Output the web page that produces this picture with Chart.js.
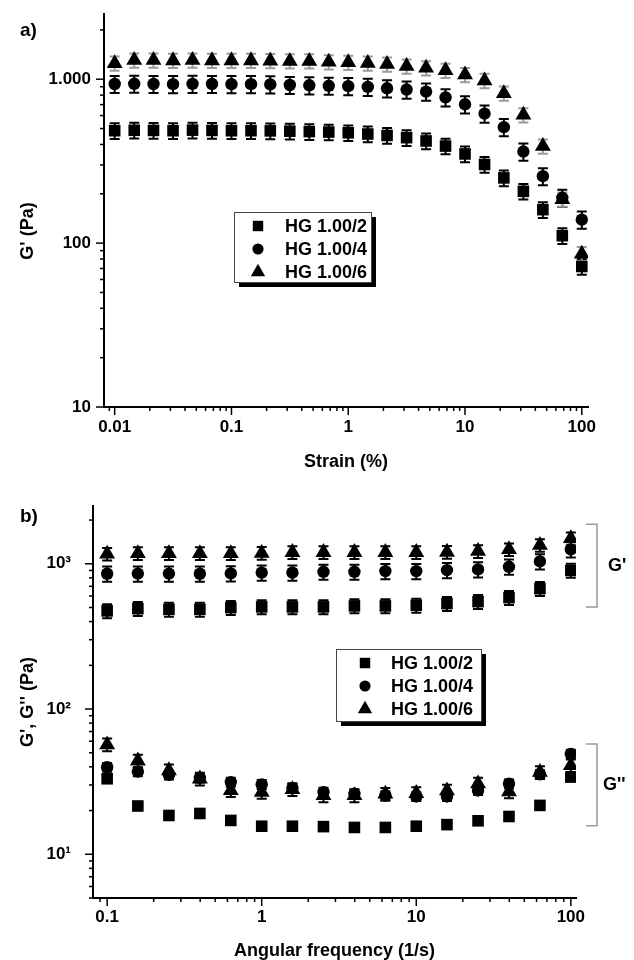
<!DOCTYPE html>
<html>
<head>
<meta charset="utf-8">
<script src="https://cdn.jsdelivr.net/npm/chart.js@4.4.1/dist/chart.umd.min.js"></script>
<style>
  html, body { margin: 0; padding: 0; background: #fff; }
  #wrap { position: relative; width: 634px; height: 960px; }
  canvas { position: absolute; left: 0; }
  #chartA { top: 0; }
  #chartB { top: 480px; }
</style>
</head>
<body>
<div id="wrap">
  <canvas id="chartA" width="634" height="480"></canvas>
  <canvas id="chartB" width="634" height="480"></canvas>
</div>
<script>
// ---- data ----
const seriesNames = ['HG 1.00/2', 'HG 1.00/4', 'HG 1.00/6'];

// a) strain sweep, G' (Pa)
const strain = [0.01, 0.0147, 0.0215, 0.0316, 0.0464, 0.0681, 0.1, 0.147, 0.215, 0.316, 0.464, 0.681,
                1, 1.47, 2.15, 3.16, 4.64, 6.81, 10, 14.7, 21.5, 31.6, 46.4, 68.1, 100];
const strainG2 = [485, 488, 487, 485, 489, 487, 485, 485, 484, 482, 479, 476, 471, 463, 454, 440, 420, 391, 350, 302, 250, 207, 160, 111, 72];
const strainG4 = [935, 938, 935, 933, 937, 935, 933, 933, 930, 922, 918, 912, 907, 898, 880, 865, 840, 775, 703, 617, 510, 362, 256, 189, 139];
const strainG6 = [1250, 1305, 1305, 1300, 1305, 1300, 1300, 1300, 1295, 1290, 1290, 1275, 1265, 1253, 1235, 1200, 1172, 1130, 1065, 980, 820, 605, 390, 185, 86];
const strainErr = [0.11, 0.12, 0.10];   // relative error bar size per series

// b) frequency sweep, G' and G'' (Pa)
const freq = [0.1, 0.158, 0.251, 0.398, 0.631, 1, 1.58, 2.51, 3.98, 6.31, 10, 15.8, 25.1, 39.8, 63.1, 100];
const gp2 = [474, 491, 486, 486, 499, 505, 505, 505, 513, 513, 518, 532, 549, 585, 674, 900];
const gp4 = [854, 856, 856, 854, 858, 870, 868, 881, 881, 891, 891, 905, 915, 954, 1038, 1255];
const gp6 = [1170, 1180, 1180, 1180, 1180, 1185, 1200, 1200, 1200, 1200, 1200, 1205, 1220, 1255, 1344, 1493];
const gpp2 = [33.1, 21.5, 18.5, 19.1, 17.1, 15.6, 15.6, 15.5, 15.3, 15.3, 15.6, 16.0, 17.0, 18.2, 21.7, 34.0];
const gpp4 = [39.8, 37.1, 35.2, 33.6, 31.4, 30.3, 28.5, 26.8, 26.1, 25.4, 25.0, 25.0, 27.5, 30.6, 35.5, 49.1];
const gpp6 = [56.9, 44.0, 37.7, 33.1, 27.5, 26.8, 28.0, 25.4, 25.4, 26.0, 26.3, 27.4, 30.6, 27.0, 36.7, 40.9];
const gpErr = [0.11, 0.12, 0.10];
const gppErr = [0.06, 0.07, 0.10];

// tick values and labels
const strainTicks = [0.01, 0.1, 1, 10, 100];
const strainTickLabels = ['0.01', '0.1', '1', '10', '100'];
const gaTicks = [10, 100, 1000];
const gaTickLabels = ['10', '100', '1.000'];
const freqTicks = [0.1, 1, 10, 100];
const freqTickLabels = ['0.1', '1', '10', '100'];
const gbTicks = [10, 100, 1000];
const gbTickLabels = ['10\u00B9', '10\u00B2', '10\u00B3'];

// ---- chart setup ----
const FAMILY = '"Liberation Sans", Arial, sans-serif';
Chart.defaults.font.family = FAMILY;
Chart.defaults.color = '#000';

const styles = ['rect', 'circle', 'triangle'];
const radii = [8.2, 6.2, 9.2];

function makeDataset(idx, xs, ys, err, errColor, inLegend) {
    return {
        label: seriesNames[idx],
        data: xs.map((x, i) => ({ x: x, y: ys[i] })),
        pointStyle: styles[idx],
        pointRadius: radii[idx],
        pointHoverRadius: radii[idx],
        backgroundColor: '#000',
        borderColor: '#000',
        pointBorderWidth: 0,
        showLine: false,
        errRel: err,
        errColor: errColor,
        inLegend: inLegend
    };
}

function logAxis(o) {
    return {
        type: 'logarithmic',
        position: o.pos,
        min: o.min,
        max: o.max,
        grid: { display: false, drawTicks: false },
        border: { display: true, color: '#000', width: 2 },
        afterBuildTicks: s => { s.ticks = o.ticks.map(v => ({ value: v })); },
        afterFit: s => {
            if (o.pos === 'left') s.width = o.size; else s.height = o.size;
            // keep the plot area where the layout padding puts it
            s.paddingTop = 0; s.paddingBottom = 0; s.paddingLeft = 0; s.paddingRight = 0;
        },
        ticks: {
            callback: (v, i) => o.labels[i],
            padding: o.pad,
            autoSkip: false,
            maxRotation: 0,
            color: '#000',
            font: { size: 17, weight: 'bold' }
        },
        title: {
            display: !!o.title,
            text: o.title || '',
            color: '#000',
            font: { size: 18, weight: 'bold', lineHeight: o.titleLH || 1.2 },
            padding: o.titlePad || 0
        }
    };
}

// error bars drawn under the markers
const errorBars = {
    id: 'errorBars',
    beforeDatasetsDraw(chart) {
        const ctx = chart.ctx;
        const yScale = chart.scales.y;
        chart.data.datasets.forEach((ds, i) => {
            const meta = chart.getDatasetMeta(i);
            ctx.save();
            ctx.strokeStyle = ds.errColor;
            ctx.lineWidth = 2;
            meta.data.forEach((pt, j) => {
                const v = ds.data[j].y;
                const top = yScale.getPixelForValue(v * (1 + ds.errRel));
                const bot = yScale.getPixelForValue(v * (1 - ds.errRel));
                ctx.beginPath();
                ctx.moveTo(pt.x, top); ctx.lineTo(pt.x, bot);
                ctx.moveTo(pt.x - 5, top); ctx.lineTo(pt.x + 5, top);
                ctx.moveTo(pt.x - 5, bot); ctx.lineTo(pt.x + 5, bot);
                ctx.stroke();
            });
            ctx.restore();
        });
    }
};

// major and minor log ticks, pointing outwards
const logTicks = {
    id: 'logTicks',
    afterDraw(chart) {
        const ctx = chart.ctx;
        const xs = chart.scales.x, ys = chart.scales.y;
        ctx.save();
        ctx.strokeStyle = '#000';
        ctx.lineWidth = 1.5;
        [xs, ys].forEach(s => {
            const d0 = Math.floor(Math.log10(s.min)), d1 = Math.ceil(Math.log10(s.max));
            for (let d = d0; d <= d1; d++) {
                for (let m = 1; m < 10; m++) {
                    const v = m * Math.pow(10, d);
                    if (v < s.min * 0.9999 || v > s.max * 1.0001) continue;
                    const p = s.getPixelForValue(v);
                    const len = m === 1 ? 8 : 4;
                    ctx.beginPath();
                    if (s === xs) { ctx.moveTo(p, xs.top); ctx.lineTo(p, xs.top + len); }
                    else { ctx.moveTo(ys.right, p); ctx.lineTo(ys.right - len, p); }
                    ctx.stroke();
                }
            }
        });
        ctx.restore();
    }
};

// y title, boxed legend with drop shadow, panel letter and G'/G'' brackets
const extras = {
    id: 'extras',
    afterDraw(chart) {
        const ctx = chart.ctx;
        const o = chart.options.plugins.extras;
        const lg = o.legend;
        ctx.save();
        // y axis title
        ctx.save();
        ctx.translate(o.yTitle.x, o.yTitle.y);
        ctx.rotate(-Math.PI / 2);
        ctx.font = 'bold 18px ' + FAMILY;
        ctx.fillStyle = '#000';
        ctx.textAlign = 'center';
        ctx.textBaseline = 'middle';
        ctx.fillText(o.yTitle.text, 0, 0);
        ctx.restore();
        // legend box
        ctx.fillStyle = '#000';
        ctx.fillRect(lg.x + 5, lg.y + 5, lg.w, lg.h);
        ctx.fillStyle = '#fff';
        ctx.fillRect(lg.x, lg.y, lg.w, lg.h);
        ctx.strokeStyle = '#444';
        ctx.lineWidth = 1;
        ctx.strokeRect(lg.x + 0.5, lg.y + 0.5, lg.w, lg.h);
        ctx.font = 'bold 18px ' + FAMILY;
        ctx.textBaseline = 'middle';
        ctx.textAlign = 'left';
        let row = 0;
        chart.data.datasets.forEach(ds => {
            if (!ds.inLegend) return;
            const y = lg.y + lg.top + row * lg.rowH;
            ctx.fillStyle = '#000';
            Chart.helpers.drawPoint(ctx, { pointStyle: ds.pointStyle, radius: ds.pointRadius * 0.9, rotation: 0, borderWidth: 0 }, lg.x + lg.markerX, y);
            ctx.fillStyle = '#000';
            ctx.fillText(ds.label, lg.x + lg.textX, y + 1);
            row++;
        });
        // panel letter
        ctx.font = 'bold 19px ' + FAMILY;
        ctx.fillStyle = '#000';
        ctx.fillText(o.letter.text, o.letter.x, o.letter.y);
        // brackets
        const ys = chart.scales.y;
        const bx = chart.chartArea.right + 21;
        (o.brackets || []).forEach(b => {
            const t = ys.getPixelForValue(b.hi), btm = ys.getPixelForValue(b.lo);
            ctx.strokeStyle = '#999';
            ctx.lineWidth = 1.5;
            ctx.beginPath();
            ctx.moveTo(bx - 11, t); ctx.lineTo(bx, t); ctx.lineTo(bx, btm); ctx.lineTo(bx - 11, btm);
            ctx.stroke();
            ctx.fillStyle = '#000';
            ctx.font = 'bold 18px ' + FAMILY;
            ctx.fillText(b.text, bx + b.dx, (t + btm) / 2);
        });
        ctx.restore();
    }
};

const commonOpts = {
    responsive: false,
    animation: false,
    events: [],
    plugins: { legend: { display: false }, tooltip: { enabled: false } }
};

// ---- chart a ----
new Chart(document.getElementById('chartA').getContext('2d'), {
    type: 'scatter',
    data: {
        datasets: [
            makeDataset(0, strain, strainG2, strainErr[0], '#000', true),
            makeDataset(1, strain, strainG4, strainErr[1], '#000', true),
            makeDataset(2, strain, strainG6, strainErr[2], '#9a9a9a', true)
        ]
    },
    options: {
        ...commonOpts,
        layout: { padding: { left: 0, right: 46, top: 14, bottom: 0 } },
        scales: {
            x: logAxis({ pos: 'bottom', min: 0.0081, max: 113, ticks: strainTicks, labels: strainTickLabels,
                         size: 73, pad: 10, title: 'Strain (%)', titlePad: { top: 0, bottom: 7 } }),
            y: logAxis({ pos: 'left', min: 10, max: 2500, ticks: gaTicks, labels: gaTickLabels,
                         size: 104, pad: 13 })
        },
        plugins: {
            ...commonOpts.plugins,
            extras: {
                yTitle: { text: "G' (Pa)", x: 28, y: 231 },
                legend: { x: 234, y: 212, w: 137, h: 70, top: 14, rowH: 23, markerX: 24, textX: 51 },
                letter: { text: 'a)', x: 20, y: 31 }
            }
        }
    },
    plugins: [errorBars, logTicks, extras]
});

// ---- chart b ----
new Chart(document.getElementById('chartB').getContext('2d'), {
    type: 'scatter',
    data: {
        datasets: [
            makeDataset(0, freq, gp2, gpErr[0], '#000', true),
            makeDataset(1, freq, gp4, gpErr[1], '#000', true),
            makeDataset(2, freq, gp6, gpErr[2], '#000', true),
            makeDataset(0, freq, gpp2, gppErr[0], '#000', false),
            makeDataset(1, freq, gpp4, gppErr[1], '#000', false),
            makeDataset(2, freq, gpp6, gppErr[2], '#000', false)
        ]
    },
    options: {
        ...commonOpts,
        layout: { padding: { left: 0, right: 58, top: 26, bottom: 0 } },
        scales: {
            x: logAxis({ pos: 'bottom', min: 0.081, max: 108, ticks: freqTicks, labels: freqTickLabels,
                         size: 62, pad: 9, title: 'Angular frequency (1/s)', titleLH: 1.0, titlePad: { top: 0, bottom: 0 } }),
            y: logAxis({ pos: 'left', min: 5, max: 2500, ticks: gbTicks, labels: gbTickLabels,
                         size: 93, pad: 22 })
        },
        plugins: {
            ...commonOpts.plugins,
            extras: {
                yTitle: { text: "G', G'' (Pa)", x: 28, y: 222 },
                legend: { x: 336, y: 169, w: 145, h: 72, top: 14, rowH: 23, markerX: 29, textX: 55 },
                letter: { text: 'b)', x: 20, y: 37 },
                brackets: [
                    { hi: 1870, lo: 505, text: "G'", dx: 11 },
                    { hi: 57.5, lo: 15.7, text: "G''", dx: 6 }
                ]
            }
        }
    },
    plugins: [errorBars, logTicks, extras]
});
</script>
</body>
</html>
